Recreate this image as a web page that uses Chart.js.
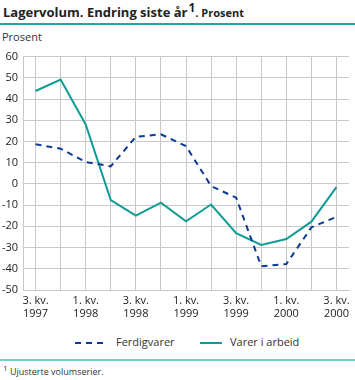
<!DOCTYPE html>
<html><head><meta charset="utf-8">
<script src="https://cdn.jsdelivr.net/npm/chart.js@4.4.0/dist/chart.umd.min.js"></script>
<style>
body{margin:0;width:355px;height:380px;background:#fff;font-family:"Open Sans",sans-serif;color:#222;position:relative;overflow:hidden}
#title{position:absolute;left:3px;top:3px;font-weight:bold;font-size:13px;white-space:nowrap}
#title sup{font-size:12px;vertical-align:5px;line-height:0;margin-left:1px}
#title small{font-size:11px}
#rule1{position:absolute;left:0;top:23px;width:355px;height:2px;background:#2aa3a0}
#ytitle{position:absolute;left:2px;top:29px;font-size:11px;color:#333}
#wrap{position:absolute;left:0;top:45px;width:355px;height:280px}
#legend{position:absolute;top:334px;left:0;width:355px;font-size:11px;color:#333}
.li{position:absolute;top:0;white-space:nowrap}
#rule2{position:absolute;left:0;top:359px;width:355px;height:2px;background:#6dcfcf}
#foot{position:absolute;left:3px;top:362px;font-size:9px;color:#333}
#foot sup{font-size:8px}
</style></head><body>
<div id="title">Lagervolum. Endring siste år<sup>1</sup><small>. Prosent</small></div>
<div id="rule1"></div>
<div id="ytitle">Prosent</div>
<div id="wrap"><canvas id="c"></canvas></div>
<div id="legend">
  <div class="li" style="left:75px"><svg width="32" height="12" style="vertical-align:middle"><line x1="0" y1="6" x2="32" y2="6" stroke="#0a3a97" stroke-width="2" stroke-dasharray="6,5"/></svg><span style="margin-left:9px">Ferdigvarer</span></div>
  <div class="li" style="left:200px"><svg width="22" height="12" style="vertical-align:middle"><line x1="0" y1="6" x2="22" y2="6" stroke="#0e9c95" stroke-width="2"/></svg><span style="margin-left:8px">Varer i arbeid</span></div>
</div>
<div id="rule2"></div>
<div id="foot"><sup>1</sup> Ujusterte volumserier.</div>
<script>
const categories = ["3. kv. 1997","4. kv. 1997","1. kv. 1998","2. kv. 1998","3. kv. 1998","4. kv. 1998","1. kv. 1999","2. kv. 1999","3. kv. 1999","4. kv. 1999","1. kv. 2000","2. kv. 2000","3. kv. 2000"];
const tickLabels = [["3. kv.","1997"],"",["1. kv.","1998"],"",["3. kv.","1998"],"",["1. kv.","1999"],"",["3. kv.","1999"],"",["1. kv.","2000"],"",["3. kv.","2000"]];
const ferdigvarer = [18.7, 16.6, 10.3, 8.3, 22.2, 23.4, 17.8, -1, -6.5, -38.8, -37.8, -20.5, -15.5];
const varerIArbeid = [43.8, 49.2, 28, -7.6, -14.9, -8.8, -17.6, -9.7, -23.2, -28.8, -26, -17.8, -1.5];
const yMin = -50, yMax = 60, yStep = 10;

new Chart(document.getElementById('c'), {
  type: 'line',
  data: {
    labels: categories,
    datasets: [
      {label:'Ferdigvarer', data: ferdigvarer, borderColor:'#0a3a97', borderWidth:2, borderDash:[6,5], pointRadius:0, tension:0, fill:false},
      {label:'Varer i arbeid', data: varerIArbeid, borderColor:'#0e9c95', borderWidth:2, pointRadius:0, tension:0, fill:false}
    ]
  },
  options: {
    responsive:true, maintainAspectRatio:false, animation:false,
    layout:{padding:{top:10,right:6,left:0,bottom:0}},
    plugins:{legend:{display:false}, tooltip:{enabled:false}},
    scales:{
      x:{
        offset:true,
        grid:{offset:false, color:'#c8c8c8', lineWidth:1, drawTicks:false},
        border:{color:'#c8c8c8', width:1},
        ticks:{autoSkip:false, maxRotation:0, minRotation:0, padding:4, color:'#222', font:{family:'Open Sans', size:11}, callback:(v,i)=>tickLabels[i]},
        afterFit:(s)=>{s.height=35;}
      },
      y:{
        min:yMin, max:yMax,
        grid:{color:'#c8c8c8', lineWidth:1, drawTicks:false},
        border:{color:'#c8c8c8', width:1},
        ticks:{stepSize:yStep, padding:5, color:'#222', font:{family:'Open Sans', size:11}},
        afterFit:(s)=>{s.width=23;}
      }
    }
  }
});
</script>
</body></html>
